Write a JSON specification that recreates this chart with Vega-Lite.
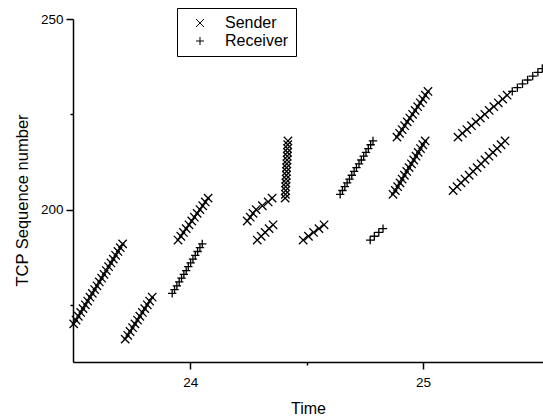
{
  "$schema": "https://vega.github.io/schema/vega-lite/v6.json",
  "autosize": {"type": "none"},
  "padding": {"left": 73, "top": 19, "right": 0, "bottom": 56},
  "width": 470,
  "height": 343,
  "background": "white",
  "config": {
    "view": {"stroke": null},
    "font": "Liberation Sans",
    "axis": {
      "domainColor": "black", "domainWidth": 1.5, "tickColor": "black", "tickWidth": 1.5,
      "labelColor": "black", "titleColor": "black", "labelFont": "Liberation Sans", "titleFont": "Liberation Sans",
      "labelFontSize": 13.5, "titleFontSize": 16, "titleFontWeight": "normal", "grid": false
    }
  },
  "data": {"values": [
    {"t": 23.50, "seq": 170, "series": "Sender"}, {"t": 23.51, "seq": 171, "series": "Sender"}, {"t": 23.52, "seq": 172, "series": "Sender"}, {"t": 23.53, "seq": 173, "series": "Sender"}, {"t": 23.54, "seq": 174, "series": "Sender"}, {"t": 23.55, "seq": 175, "series": "Sender"}, {"t": 23.56, "seq": 176, "series": "Sender"}, {"t": 23.57, "seq": 177, "series": "Sender"}, {"t": 23.58, "seq": 178, "series": "Sender"}, {"t": 23.59, "seq": 179, "series": "Sender"}, {"t": 23.60, "seq": 180, "series": "Sender"}, {"t": 23.61, "seq": 181, "series": "Sender"}, {"t": 23.62, "seq": 182, "series": "Sender"}, {"t": 23.63, "seq": 183, "series": "Sender"}, {"t": 23.64, "seq": 184, "series": "Sender"}, {"t": 23.65, "seq": 185, "series": "Sender"}, {"t": 23.66, "seq": 186, "series": "Sender"}, {"t": 23.67, "seq": 187, "series": "Sender"}, {"t": 23.68, "seq": 188, "series": "Sender"}, {"t": 23.69, "seq": 189, "series": "Sender"}, {"t": 23.70, "seq": 190, "series": "Sender"}, {"t": 23.71, "seq": 191, "series": "Sender"},

    {"t": 23.721, "seq": 166, "series": "Sender"}, {"t": 23.732, "seq": 167, "series": "Sender"}, {"t": 23.742, "seq": 168, "series": "Sender"}, {"t": 23.753, "seq": 169, "series": "Sender"}, {"t": 23.763, "seq": 170, "series": "Sender"}, {"t": 23.774, "seq": 171, "series": "Sender"}, {"t": 23.784, "seq": 172, "series": "Sender"}, {"t": 23.795, "seq": 173, "series": "Sender"}, {"t": 23.805, "seq": 174, "series": "Sender"}, {"t": 23.816, "seq": 175, "series": "Sender"}, {"t": 23.826, "seq": 176, "series": "Sender"}, {"t": 23.837, "seq": 177, "series": "Sender"},

    {"t": 23.923, "seq": 178, "series": "Receiver"}, {"t": 23.933, "seq": 179, "series": "Receiver"}, {"t": 23.943, "seq": 180, "series": "Receiver"}, {"t": 23.953, "seq": 181, "series": "Receiver"}, {"t": 23.963, "seq": 182, "series": "Receiver"}, {"t": 23.973, "seq": 183, "series": "Receiver"}, {"t": 23.983, "seq": 184, "series": "Receiver"}, {"t": 23.992, "seq": 185, "series": "Receiver"}, {"t": 24.002, "seq": 186, "series": "Receiver"}, {"t": 24.012, "seq": 187, "series": "Receiver"}, {"t": 24.022, "seq": 188, "series": "Receiver"}, {"t": 24.032, "seq": 189, "series": "Receiver"}, {"t": 24.042, "seq": 190, "series": "Receiver"}, {"t": 24.052, "seq": 191, "series": "Receiver"},

    {"t": 23.948, "seq": 192, "series": "Sender"}, {"t": 23.960, "seq": 193, "series": "Sender"}, {"t": 23.971, "seq": 194, "series": "Sender"}, {"t": 23.983, "seq": 195, "series": "Sender"}, {"t": 23.995, "seq": 196, "series": "Sender"}, {"t": 24.007, "seq": 197, "series": "Sender"}, {"t": 24.018, "seq": 198, "series": "Sender"}, {"t": 24.030, "seq": 199, "series": "Sender"}, {"t": 24.042, "seq": 200, "series": "Sender"}, {"t": 24.054, "seq": 201, "series": "Sender"}, {"t": 24.065, "seq": 202, "series": "Sender"}, {"t": 24.077, "seq": 203, "series": "Sender"},

    {"t": 24.245, "seq": 197, "series": "Sender"}, {"t": 24.258, "seq": 198, "series": "Sender"}, {"t": 24.270, "seq": 199, "series": "Sender"}, {"t": 24.283, "seq": 200, "series": "Sender"}, {"t": 24.310, "seq": 201, "series": "Sender"}, {"t": 24.335, "seq": 202, "series": "Sender"}, {"t": 24.352, "seq": 203, "series": "Sender"},

    {"t": 24.288, "seq": 192, "series": "Sender"}, {"t": 24.305, "seq": 193, "series": "Sender"}, {"t": 24.322, "seq": 194, "series": "Sender"}, {"t": 24.339, "seq": 195, "series": "Sender"}, {"t": 24.356, "seq": 196, "series": "Sender"},

    {"t": 24.408, "seq": 203, "series": "Sender"}, {"t": 24.409, "seq": 204, "series": "Sender"}, {"t": 24.410, "seq": 205, "series": "Sender"}, {"t": 24.410, "seq": 206, "series": "Sender"}, {"t": 24.411, "seq": 207, "series": "Sender"}, {"t": 24.412, "seq": 208, "series": "Sender"}, {"t": 24.413, "seq": 209, "series": "Sender"}, {"t": 24.414, "seq": 210, "series": "Sender"}, {"t": 24.414, "seq": 211, "series": "Sender"}, {"t": 24.415, "seq": 212, "series": "Sender"}, {"t": 24.416, "seq": 213, "series": "Sender"}, {"t": 24.417, "seq": 214, "series": "Sender"}, {"t": 24.418, "seq": 215, "series": "Sender"}, {"t": 24.418, "seq": 216, "series": "Sender"}, {"t": 24.419, "seq": 217, "series": "Sender"}, {"t": 24.420, "seq": 218, "series": "Sender"},

    {"t": 24.485, "seq": 192, "series": "Sender"}, {"t": 24.508, "seq": 193, "series": "Sender"}, {"t": 24.530, "seq": 194, "series": "Sender"}, {"t": 24.553, "seq": 195, "series": "Sender"}, {"t": 24.575, "seq": 196, "series": "Sender"},

    {"t": 24.644, "seq": 204, "series": "Receiver"}, {"t": 24.654, "seq": 205, "series": "Receiver"}, {"t": 24.664, "seq": 206, "series": "Receiver"}, {"t": 24.674, "seq": 207, "series": "Receiver"}, {"t": 24.684, "seq": 208, "series": "Receiver"}, {"t": 24.694, "seq": 209, "series": "Receiver"}, {"t": 24.704, "seq": 210, "series": "Receiver"}, {"t": 24.714, "seq": 211, "series": "Receiver"}, {"t": 24.725, "seq": 212, "series": "Receiver"}, {"t": 24.735, "seq": 213, "series": "Receiver"}, {"t": 24.745, "seq": 214, "series": "Receiver"}, {"t": 24.755, "seq": 215, "series": "Receiver"}, {"t": 24.765, "seq": 216, "series": "Receiver"}, {"t": 24.775, "seq": 217, "series": "Receiver"}, {"t": 24.785, "seq": 218, "series": "Receiver"},

    {"t": 24.773, "seq": 192, "series": "Receiver"}, {"t": 24.791, "seq": 193, "series": "Receiver"}, {"t": 24.810, "seq": 194, "series": "Receiver"}, {"t": 24.828, "seq": 195, "series": "Receiver"},

    {"t": 24.888, "seq": 219, "series": "Sender"}, {"t": 24.899, "seq": 220, "series": "Sender"}, {"t": 24.910, "seq": 221, "series": "Sender"}, {"t": 24.921, "seq": 222, "series": "Sender"}, {"t": 24.932, "seq": 223, "series": "Sender"}, {"t": 24.943, "seq": 224, "series": "Sender"}, {"t": 24.955, "seq": 225, "series": "Sender"}, {"t": 24.966, "seq": 226, "series": "Sender"}, {"t": 24.977, "seq": 227, "series": "Sender"}, {"t": 24.988, "seq": 228, "series": "Sender"}, {"t": 24.999, "seq": 229, "series": "Sender"}, {"t": 25.010, "seq": 230, "series": "Sender"}, {"t": 25.021, "seq": 231, "series": "Sender"},

    {"t": 24.871, "seq": 204, "series": "Sender"}, {"t": 24.881, "seq": 205, "series": "Sender"}, {"t": 24.891, "seq": 206, "series": "Sender"}, {"t": 24.901, "seq": 207, "series": "Sender"}, {"t": 24.910, "seq": 208, "series": "Sender"}, {"t": 24.920, "seq": 209, "series": "Sender"}, {"t": 24.930, "seq": 210, "series": "Sender"}, {"t": 24.940, "seq": 211, "series": "Sender"}, {"t": 24.950, "seq": 212, "series": "Sender"}, {"t": 24.960, "seq": 213, "series": "Sender"}, {"t": 24.970, "seq": 214, "series": "Sender"}, {"t": 24.979, "seq": 215, "series": "Sender"}, {"t": 24.989, "seq": 216, "series": "Sender"}, {"t": 24.999, "seq": 217, "series": "Sender"}, {"t": 25.009, "seq": 218, "series": "Sender"},

    {"t": 25.129, "seq": 205, "series": "Sender"}, {"t": 25.146, "seq": 206, "series": "Sender"}, {"t": 25.163, "seq": 207, "series": "Sender"}, {"t": 25.180, "seq": 208, "series": "Sender"}, {"t": 25.198, "seq": 209, "series": "Sender"}, {"t": 25.215, "seq": 210, "series": "Sender"}, {"t": 25.232, "seq": 211, "series": "Sender"}, {"t": 25.249, "seq": 212, "series": "Sender"}, {"t": 25.266, "seq": 213, "series": "Sender"}, {"t": 25.283, "seq": 214, "series": "Sender"}, {"t": 25.300, "seq": 215, "series": "Sender"}, {"t": 25.318, "seq": 216, "series": "Sender"}, {"t": 25.335, "seq": 217, "series": "Sender"}, {"t": 25.352, "seq": 218, "series": "Sender"},

    {"t": 25.150, "seq": 219, "series": "Sender"}, {"t": 25.169, "seq": 220, "series": "Sender"}, {"t": 25.188, "seq": 221, "series": "Sender"}, {"t": 25.208, "seq": 222, "series": "Sender"}, {"t": 25.227, "seq": 223, "series": "Sender"}, {"t": 25.246, "seq": 224, "series": "Sender"}, {"t": 25.265, "seq": 225, "series": "Sender"}, {"t": 25.284, "seq": 226, "series": "Sender"}, {"t": 25.304, "seq": 227, "series": "Sender"}, {"t": 25.323, "seq": 228, "series": "Sender"}, {"t": 25.342, "seq": 229, "series": "Sender"}, {"t": 25.361, "seq": 230, "series": "Sender"},

    {"t": 25.383, "seq": 231, "series": "Receiver"}, {"t": 25.405, "seq": 232, "series": "Receiver"}, {"t": 25.427, "seq": 233, "series": "Receiver"}, {"t": 25.449, "seq": 234, "series": "Receiver"}, {"t": 25.471, "seq": 235, "series": "Receiver"}, {"t": 25.493, "seq": 236, "series": "Receiver"}, {"t": 25.512, "seq": 237, "series": "Receiver"}
  ]},
  "mark": {"type": "point", "filled": false, "color": "black", "strokeWidth": 1.3, "size": 70, "opacity": 1},
  "encoding": {
    "x": {
      "field": "t", "type": "quantitative", "title": "Time",
      "scale": {"domain": [23.497, 25.515], "nice": false, "zero": false},
      "axis": {
        "values": [24, 24.5, 25],
        "labelExpr": "datum.value == 24.5 ? '' : format(datum.value, 'd')",
        "tickSize": {"condition": {"test": "datum.value === 24.5", "value": 3}, "value": 7},
        "labelPadding": 6, "titlePadding": 12, "labelFlush": false
      }
    },
    "y": {
      "field": "seq", "type": "quantitative", "title": "TCP Sequence number",
      "scale": {"domain": [160, 250], "nice": false, "zero": false},
      "axis": {
        "values": [175, 200, 225, 250],
        "labelExpr": "datum.value % 50 == 0 ? format(datum.value, 'd') : ''",
        "tickSize": {"condition": {"test": "datum.value === 175 || datum.value === 225", "value": 3}, "value": 7},
        "labelPadding": 3, "titlePadding": 10, "titleY": 181, "labelFlush": false, "titleFontSize": 16.5
      }
    },
    "shape": {
      "field": "series", "type": "nominal",
      "scale": {"domain": ["Sender", "Receiver"], "range": ["M-1,-1L1,1M-1,1L1,-1", "M-1,0L1,0M0,-1L0,1"]},
      "legend": {
        "title": null, "orient": "none", "legendX": 104, "legendY": -11,
        "strokeColor": "black", "fillColor": "white", "padding": 7,
        "labelFontSize": 16, "labelFont": "Liberation Sans", "labelColor": "black",
        "symbolSize": 64, "symbolStrokeColor": "black", "symbolStrokeWidth": 1, "symbolFillColor": "transparent",
        "symbolOffset": 8, "labelOffset": 17, "rowPadding": 2, "cornerRadius": 0
      }
    }
  }
}
